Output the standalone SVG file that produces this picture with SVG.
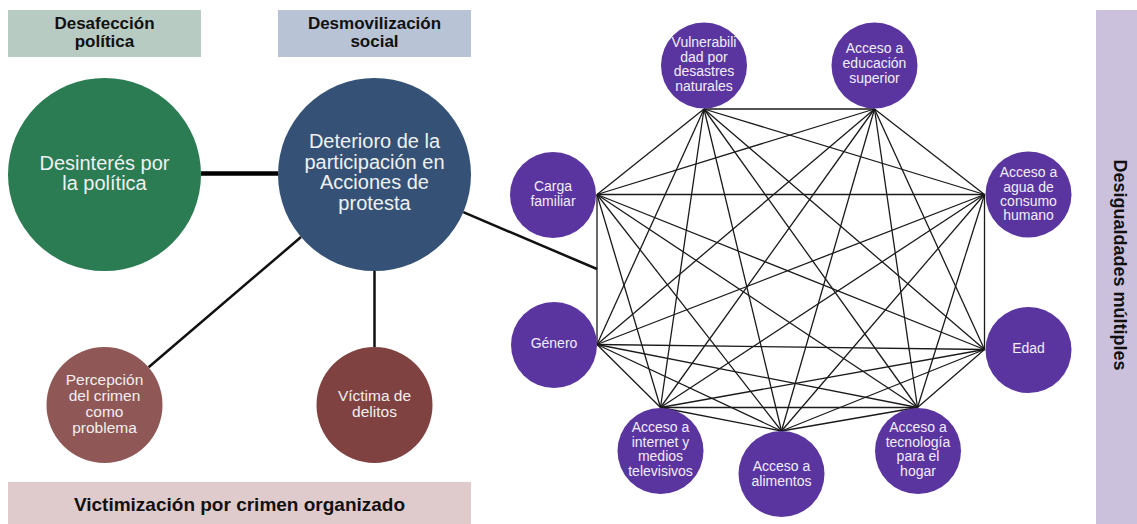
<svg xmlns="http://www.w3.org/2000/svg" width="1137" height="524" viewBox="0 0 1137 524">
<style>
.hdr{font-family:"Liberation Sans",Arial,sans-serif;font-weight:bold;fill:#111;text-anchor:middle}
.big{font-family:"Liberation Sans",Arial,sans-serif;font-size:20px;fill:#eef1f2;text-anchor:middle}
.mid{font-family:"Liberation Sans",Arial,sans-serif;font-size:15.5px;fill:#f3eeee;text-anchor:middle}
.sm{font-family:"Liberation Sans",Arial,sans-serif;font-size:14px;fill:#f1edf8;text-anchor:middle}
.pc{fill:#5a35a0}
.mesh line{stroke:#1a1a1a;stroke-width:1.3}
</style>
<rect width="1137" height="524" fill="#ffffff"/>
<g id="label-desafeccion">
<rect x="8" y="10" width="193" height="47" fill="#b8cbc3"/>
<text class="hdr" font-size="17" x="104.5"><tspan x="104.5" y="28.5">Desafección</tspan><tspan x="104.5" y="46.5">política</tspan></text>
</g>
<g id="label-desmovilizacion">
<rect x="278" y="10" width="193" height="47" fill="#b8c4d6"/>
<text class="hdr" font-size="17" x="374.5"><tspan x="374.5" y="28.5">Desmovilización</tspan><tspan x="374.5" y="46.5">social</tspan></text>
</g>
<g id="label-victimizacion">
<rect x="8" y="482" width="463" height="42" fill="#dfcbcb"/>
<text class="hdr" font-size="19" x="239.5" y="511">Victimización por crimen organizado</text>
</g>
<g id="label-desigualdades">
<rect x="1096" y="10" width="41" height="514" fill="#cbc1dd"/>
<text class="hdr" font-size="18" transform="translate(1114 265) rotate(90)">Desigualdades múltiples</text>
</g>
<g id="connectors">
<line x1="201" y1="173.5" x2="278" y2="173.5" stroke="#000" stroke-width="4.5"/>
<line x1="301" y1="237" x2="148.6" y2="367.3" stroke="#111" stroke-width="2.5"/>
<line x1="374.5" y1="271" x2="374.5" y2="347" stroke="#111" stroke-width="2.5"/>
<line x1="463.3" y1="212.2" x2="597" y2="269" stroke="#111" stroke-width="2.5"/>
<g class="mesh">
<line x1="704" y1="109" x2="874.5" y2="109"/>
<line x1="704" y1="109" x2="984.5" y2="194.5"/>
<line x1="704" y1="109" x2="984.5" y2="349.5"/>
<line x1="704" y1="109" x2="917.5" y2="407.5"/>
<line x1="704" y1="109" x2="781.5" y2="431"/>
<line x1="704" y1="109" x2="660.5" y2="407.5"/>
<line x1="704" y1="109" x2="597" y2="344.5"/>
<line x1="704" y1="109" x2="597" y2="194.5"/>
<line x1="874.5" y1="109" x2="984.5" y2="194.5"/>
<line x1="874.5" y1="109" x2="984.5" y2="349.5"/>
<line x1="874.5" y1="109" x2="917.5" y2="407.5"/>
<line x1="874.5" y1="109" x2="781.5" y2="431"/>
<line x1="874.5" y1="109" x2="660.5" y2="407.5"/>
<line x1="874.5" y1="109" x2="597" y2="344.5"/>
<line x1="874.5" y1="109" x2="597" y2="194.5"/>
<line x1="984.5" y1="194.5" x2="984.5" y2="349.5"/>
<line x1="984.5" y1="194.5" x2="917.5" y2="407.5"/>
<line x1="984.5" y1="194.5" x2="781.5" y2="431"/>
<line x1="984.5" y1="194.5" x2="660.5" y2="407.5"/>
<line x1="984.5" y1="194.5" x2="597" y2="344.5"/>
<line x1="984.5" y1="194.5" x2="597" y2="194.5"/>
<line x1="984.5" y1="349.5" x2="917.5" y2="407.5"/>
<line x1="984.5" y1="349.5" x2="781.5" y2="431"/>
<line x1="984.5" y1="349.5" x2="660.5" y2="407.5"/>
<line x1="984.5" y1="349.5" x2="597" y2="344.5"/>
<line x1="984.5" y1="349.5" x2="597" y2="194.5"/>
<line x1="917.5" y1="407.5" x2="781.5" y2="431"/>
<line x1="917.5" y1="407.5" x2="660.5" y2="407.5"/>
<line x1="917.5" y1="407.5" x2="597" y2="344.5"/>
<line x1="917.5" y1="407.5" x2="597" y2="194.5"/>
<line x1="781.5" y1="431" x2="660.5" y2="407.5"/>
<line x1="781.5" y1="431" x2="597" y2="344.5"/>
<line x1="781.5" y1="431" x2="597" y2="194.5"/>
<line x1="660.5" y1="407.5" x2="597" y2="344.5"/>
<line x1="660.5" y1="407.5" x2="597" y2="194.5"/>
<line x1="597" y1="344.5" x2="597" y2="194.5"/>
</g>
</g>
<g id="node-desinteres">
<circle cx="104.5" cy="174.5" r="96.5" fill="#2b7b53"/>
<text class="big"><tspan x="104.5" y="169.5">Desinterés por</tspan><tspan x="104.5" y="190">la política</tspan></text>
</g>
<g id="node-deterioro">
<circle cx="374.5" cy="174.5" r="96.5" fill="#355276"/>
<text class="big"><tspan x="374.5" y="148">Deterioro de la</tspan><tspan x="374.5" y="168.5">participación en</tspan><tspan x="374.5" y="189">Acciones de</tspan><tspan x="374.5" y="209.5">protesta</tspan></text>
</g>
<g id="node-percepcion">
<circle cx="104.5" cy="405" r="58" fill="#8f5857"/>
<text class="mid"><tspan x="104.5" y="385">Percepción</tspan><tspan x="104.5" y="401">del crimen</tspan><tspan x="104.5" y="417">como</tspan><tspan x="104.5" y="433">problema</tspan></text>
</g>
<g id="node-victima">
<circle cx="374.5" cy="405" r="58" fill="#7f4241"/>
<text class="mid"><tspan x="374.5" y="400.5">Víctima de</tspan><tspan x="374.5" y="417">delitos</tspan></text>
</g>
<g id="node-vulnerabilidad">
<circle class="pc" cx="704" cy="65.5" r="43"/>
<text class="sm"><tspan x="704" y="47">Vulnerabili</tspan><tspan x="704" y="61.5">dad por</tspan><tspan x="704" y="76">desastres</tspan><tspan x="704" y="90.5">naturales</tspan></text>
</g>
<g id="node-educacion">
<circle class="pc" cx="874.5" cy="65.5" r="43"/>
<text class="sm"><tspan x="874.5" y="53">Acceso a</tspan><tspan x="874.5" y="68">educación</tspan><tspan x="874.5" y="83">superior</tspan></text>
</g>
<g id="node-agua">
<circle class="pc" cx="1028.5" cy="194.5" r="43"/>
<text class="sm"><tspan x="1028.5" y="177.3">Acceso a</tspan><tspan x="1028.5" y="191.7">agua de</tspan><tspan x="1028.5" y="206">consumo</tspan><tspan x="1028.5" y="220">humano</tspan></text>
</g>
<g id="node-edad">
<circle class="pc" cx="1028.5" cy="350" r="43"/>
<text class="sm" x="1028.5" y="352.7">Edad</text>
</g>
<g id="node-tecnologia">
<circle class="pc" cx="918" cy="451" r="43"/>
<text class="sm"><tspan x="918" y="431.7">Acceso a</tspan><tspan x="918" y="446.7">tecnología</tspan><tspan x="918" y="461">para el</tspan><tspan x="918" y="475.7">hogar</tspan></text>
</g>
<g id="node-alimentos">
<circle class="pc" cx="781.5" cy="474" r="43"/>
<text class="sm"><tspan x="781.5" y="471">Acceso a</tspan><tspan x="781.5" y="485.7">alimentos</tspan></text>
</g>
<g id="node-internet">
<circle class="pc" cx="660.5" cy="451" r="43"/>
<text class="sm"><tspan x="660.5" y="431.7">Acceso a</tspan><tspan x="660.5" y="446.7">internet y</tspan><tspan x="660.5" y="461">medios</tspan><tspan x="660.5" y="475.7">televisivos</tspan></text>
</g>
<g id="node-genero">
<circle class="pc" cx="554" cy="345" r="43"/>
<text class="sm" x="554" y="347.7">Género</text>
</g>
<g id="node-carga">
<circle class="pc" cx="553" cy="195" r="43"/>
<text class="sm"><tspan x="553" y="191">Carga</tspan><tspan x="553" y="205.7">familiar</tspan></text>
</g>
</svg>
